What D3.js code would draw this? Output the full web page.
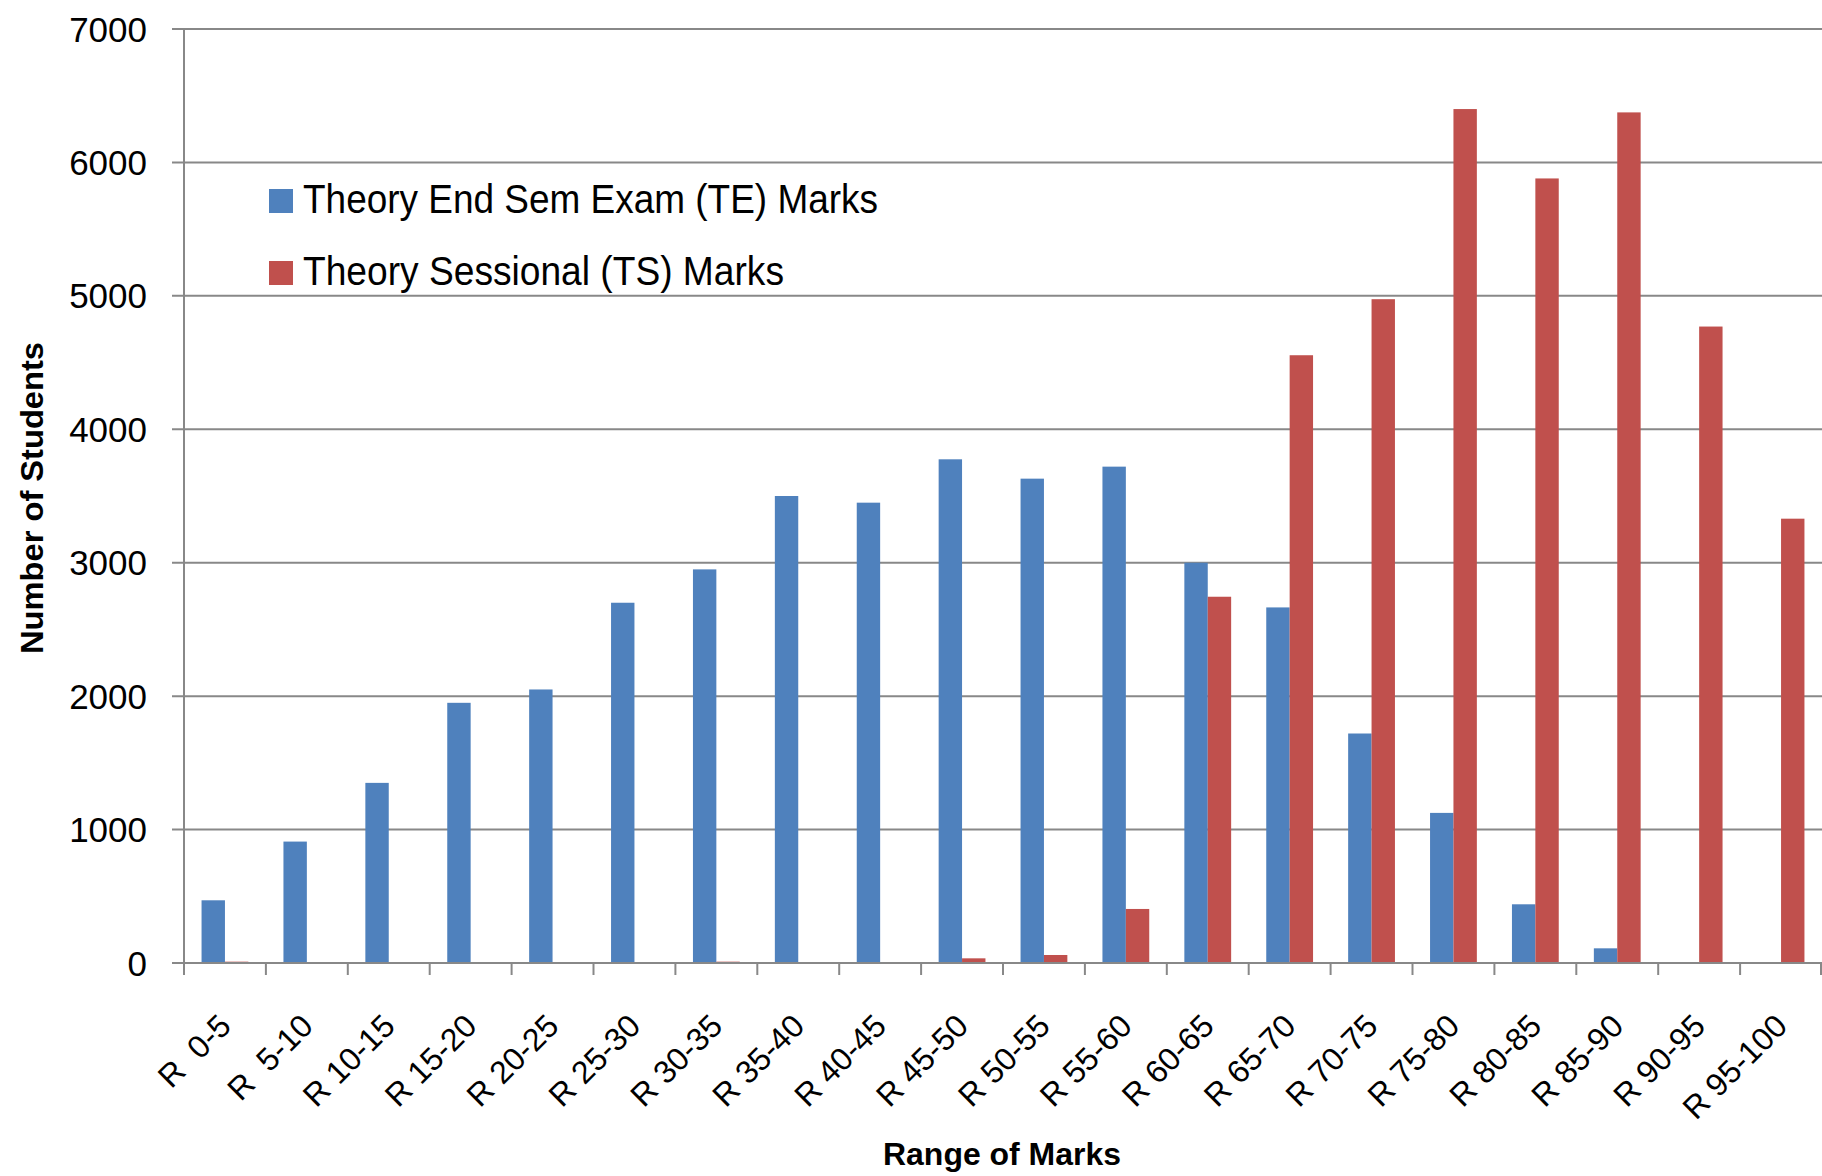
<!DOCTYPE html>
<html>
<head>
<meta charset="utf-8">
<script src="https://cdn.jsdelivr.net/npm/d3@7"></script>
<style>
  html, body { margin: 0; padding: 0; background: #fff; }
  svg { display: block; }
</style>
</head>
<body>
<svg id="chart" width="1822" height="1176"></svg>
<script>
// ---- data ----
const categories = ["R  0-5", "R  5-10", "R 10-15", "R 15-20", "R 20-25", "R 25-30", "R 30-35",
  "R 35-40", "R 40-45", "R 45-50", "R 50-55", "R 55-60", "R 60-65", "R 65-70", "R 70-75",
  "R 75-80", "R 80-85", "R 85-90", "R 90-95", "R 95-100"];
const seriesNames = ["Theory End Sem Exam (TE) Marks", "Theory Sessional (TS) Marks"];
const teValues = [470, 910, 1350, 1950, 2050, 2700, 2950, 3500, 3450, 3775, 3630, 3720, 3000, 2665, 1720, 1125, 440, 110, 5, 0];
const tsValues = [10, 0, 0, 0, 5, 2, 10, 5, 5, 35, 60, 405, 2745, 4555, 4975, 6400, 5880, 6375, 4770, 3330];
const yTicks = [0, 1000, 2000, 3000, 4000, 5000, 6000, 7000];
const colors = ["#4F81BD", "#C0504D"];
const yTitle = "Number of Students";
const xTitle = "Range of Marks";

(function () {
// ---- layout ----
const svg = d3.select("#chart");
const pLeft = 184, pRight = 1822, pTop = 29, pBottom = 963;
const gridColor = "#888888";
const FONT = "'Liberation Sans', Arial, sans-serif";

const x0 = d3.scaleBand().domain(categories).range([pLeft, pRight]).paddingInner(0).paddingOuter(0);
const x1 = d3.scaleBand().domain(seriesNames).range([0, x0.bandwidth()]).paddingInner(0).paddingOuter(0.75);
const y = d3.scaleLinear().domain([0, 7000]).range([pBottom, pTop]);

// gridlines (extend left as y ticks)
svg.append("g").selectAll("line").data(yTicks.filter(d => d > 0)).join("line")
  .attr("x1", pLeft - 12).attr("x2", pRight)
  .attr("y1", d => y(d)).attr("y2", d => y(d))
  .attr("stroke", gridColor).attr("stroke-width", 2);

// y axis line
svg.append("line").attr("x1", pLeft).attr("x2", pLeft).attr("y1", pTop).attr("y2", pBottom)
  .attr("stroke", gridColor).attr("stroke-width", 2);

// y tick labels
svg.append("g").selectAll("text").data(yTicks).join("text")
  .attr("x", 147).attr("y", d => y(d))
  .attr("dy", "0.36em")
  .attr("text-anchor", "end")
  .attr("font-family", FONT).attr("font-size", 35).attr("fill", "#000")
  .text(d => d);

// bars
const rows = categories.map((c, i) => ({ cat: c, vals: [teValues[i], tsValues[i]] }));
const groups = svg.append("g").selectAll("g").data(rows).join("g")
  .attr("transform", d => `translate(${x0(d.cat)},0)`);
groups.selectAll("rect").data(d => d.vals.map((v, k) => ({ v, k })).filter(e => e.v > 0)).join("rect")
  .attr("x", e => x1(seriesNames[e.k]))
  .attr("width", x1.bandwidth())
  .attr("y", e => y(e.v))
  .attr("height", e => y(0) - y(e.v))
  .attr("fill", e => colors[e.k]);

// x axis line (drawn over bars)
svg.append("line").attr("x1", pLeft - 12).attr("x2", pRight).attr("y1", pBottom).attr("y2", pBottom)
  .attr("stroke", gridColor).attr("stroke-width", 2);

// x ticks at category boundaries
const boundaries = categories.map(c => x0(c)).concat([pRight - 1]);
svg.append("g").selectAll("line").data(boundaries).join("line")
  .attr("x1", d => d).attr("x2", d => d)
  .attr("y1", pBottom).attr("y2", pBottom + 12)
  .attr("stroke", gridColor).attr("stroke-width", 2);

// x tick labels rotated
svg.append("g").selectAll("text").data(categories).join("text")
  .attr("transform", d => `translate(${x0(d) + x0.bandwidth() / 2 + 8},1028) rotate(-45)`)
  .attr("text-anchor", "end")
  .attr("font-family", FONT).attr("font-size", 32).attr("fill", "#000")
  .style("white-space", "pre")
  .text(d => d);

// axis titles
svg.append("text")
  .attr("transform", `translate(43,498) rotate(-90)`)
  .attr("text-anchor", "middle")
  .attr("font-family", FONT).attr("font-weight", "bold").attr("font-size", 32).attr("fill", "#000")
  .attr("textLength", 312).attr("lengthAdjust", "spacingAndGlyphs")
  .text(yTitle);

svg.append("text")
  .attr("x", 1002).attr("y", 1165)
  .attr("text-anchor", "middle")
  .attr("font-family", FONT).attr("font-weight", "bold").attr("font-size", 32).attr("fill", "#000")
  .attr("textLength", 238).attr("lengthAdjust", "spacingAndGlyphs")
  .text(xTitle);

// legend
const legendWidths = [575, 481];
const legend = svg.append("g").selectAll("g").data(seriesNames).join("g")
  .attr("transform", (d, i) => `translate(269,${189 + i * 72})`);
legend.append("rect").attr("width", 24).attr("height", 24).attr("fill", (d, i) => colors[i]);
legend.append("text")
  .attr("x", 34).attr("y", 24)
  .attr("font-family", FONT).attr("font-size", 40).attr("fill", "#000")
  .attr("textLength", (d, i) => legendWidths[i])
  .attr("lengthAdjust", "spacingAndGlyphs")
  .text(d => d);
})();
</script>
</body>
</html>
